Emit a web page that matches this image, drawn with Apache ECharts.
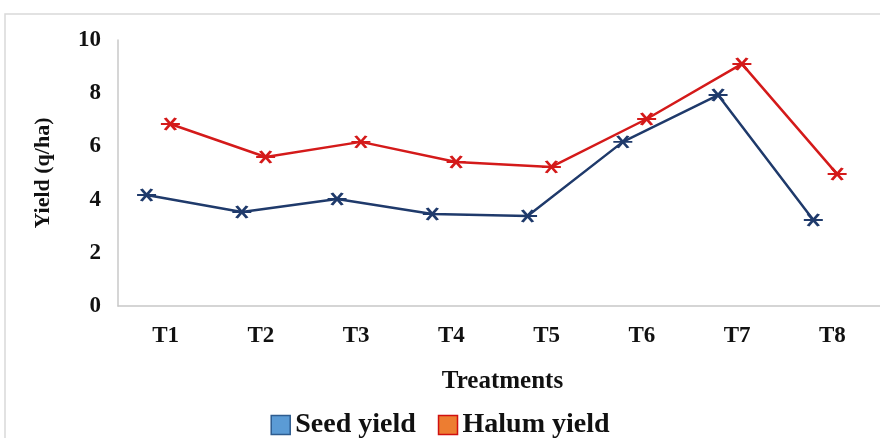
<!DOCTYPE html>
<html>
<head>
<meta charset="utf-8">
<script src="https://cdn.jsdelivr.net/npm/echarts@6/dist/echarts.min.js"></script>
<style>
  html, body { margin: 0; padding: 0; background: #fff; }
  #chart { width: 880px; height: 438px; }
</style>
</head>
<body>
<div id="chart"></div>
<script>
const categories = ['T1', 'T2', 'T3', 'T4', 'T5', 'T6', 'T7', 'T8'];
const seedYield = [4.17, 3.53, 4.02, 3.46, 3.38, 6.17, 7.93, 3.23];
const halumYield = [6.84, 5.6, 6.17, 5.41, 5.23, 7.03, 9.1, 4.96];
const yTicks = [0, 2, 4, 6, 8, 10];

// points in the original sit a little off the category centre
const seedShift = -0.2;
const halumShift = 0.05;

const serif = '"Liberation Serif", "DejaVu Serif", serif';
const starMarker = 'path://M0,0L10,10M10,0L0,10M-4,5L14,5';

const toPairs = (vals, shift) => vals.map((v, i) => [i + shift, v]);

const chart = echarts.init(document.getElementById('chart'));

const option = {
  animation: false,
  graphic: [
    {
      type: 'rect',
      shape: { x: 5, y: 14, width: 900, height: 440 },
      style: { fill: 'none', stroke: '#d9d9d9', lineWidth: 1.5 },
      silent: true
    }
  ],
  grid: { left: 118, right: 0, top: 40, bottom: 132 },
  legend: {
    bottom: -6,
    left: 'center',
    itemWidth: 19,
    itemHeight: 19,
    itemGap: 22,
    textStyle: { fontFamily: serif, fontWeight: 'bold', fontSize: 28, color: '#111' },
    data: [
      { name: 'Seed yield', icon: 'rect', itemStyle: { color: '#5b9bd5', borderColor: '#2e5c8f', borderWidth: 1.5 } },
      { name: 'Halum yield', icon: 'rect', itemStyle: { color: '#ed7d31', borderColor: '#d01010', borderWidth: 1.5 } }
    ]
  },
  xAxis: [
    {
      type: 'category',
      data: categories,
      boundaryGap: true,
      name: 'Treatments',
      nameLocation: 'middle',
      nameGap: 63,
      nameTextStyle: { fontFamily: serif, fontWeight: 'bold', fontSize: 25, color: '#111', padding: [0, 0, 0, 7] },
      axisLine: { lineStyle: { color: '#c8c8c8', width: 1.5 } },
      axisTick: { show: false },
      axisLabel: { fontFamily: serif, fontWeight: 'bold', fontSize: 23, color: '#111', margin: 19 }
    },
    {
      type: 'value',
      min: -0.5,
      max: categories.length - 0.5,
      show: false
    }
  ],
  yAxis: {
    type: 'value',
    min: yTicks[0],
    max: yTicks[yTicks.length - 1],
    interval: 2,
    name: 'Yield (q/ha)',
    nameLocation: 'middle',
    nameGap: 64,
    nameTextStyle: { fontFamily: serif, fontWeight: 'bold', fontSize: 22, color: '#111' },
    axisLine: { show: true, onZero: false, lineStyle: { color: '#c8c8c8', width: 1.5 } },
    axisTick: { show: false },
    splitLine: { show: false },
    axisLabel: { fontFamily: serif, fontWeight: 'bold', fontSize: 23, color: '#111', margin: 17 }
  },
  series: [
    {
      name: 'Seed yield',
      type: 'line',
      xAxisIndex: 1,
      data: toPairs(seedYield, seedShift),
      symbol: starMarker,
      symbolSize: [19, 12],
      lineStyle: { color: '#1f3a6b', width: 2.5 },
      itemStyle: { color: '#1f3a6b', borderColor: '#1f3a6b', borderWidth: 2.5 }
    },
    {
      name: 'Halum yield',
      type: 'line',
      xAxisIndex: 1,
      data: toPairs(halumYield, halumShift),
      symbol: starMarker,
      symbolSize: [19, 12],
      lineStyle: { color: '#d41a1a', width: 2.5 },
      itemStyle: { color: '#d41a1a', borderColor: '#d41a1a', borderWidth: 2.5 }
    }
  ]
};

chart.setOption(option);
</script>
</body>
</html>
